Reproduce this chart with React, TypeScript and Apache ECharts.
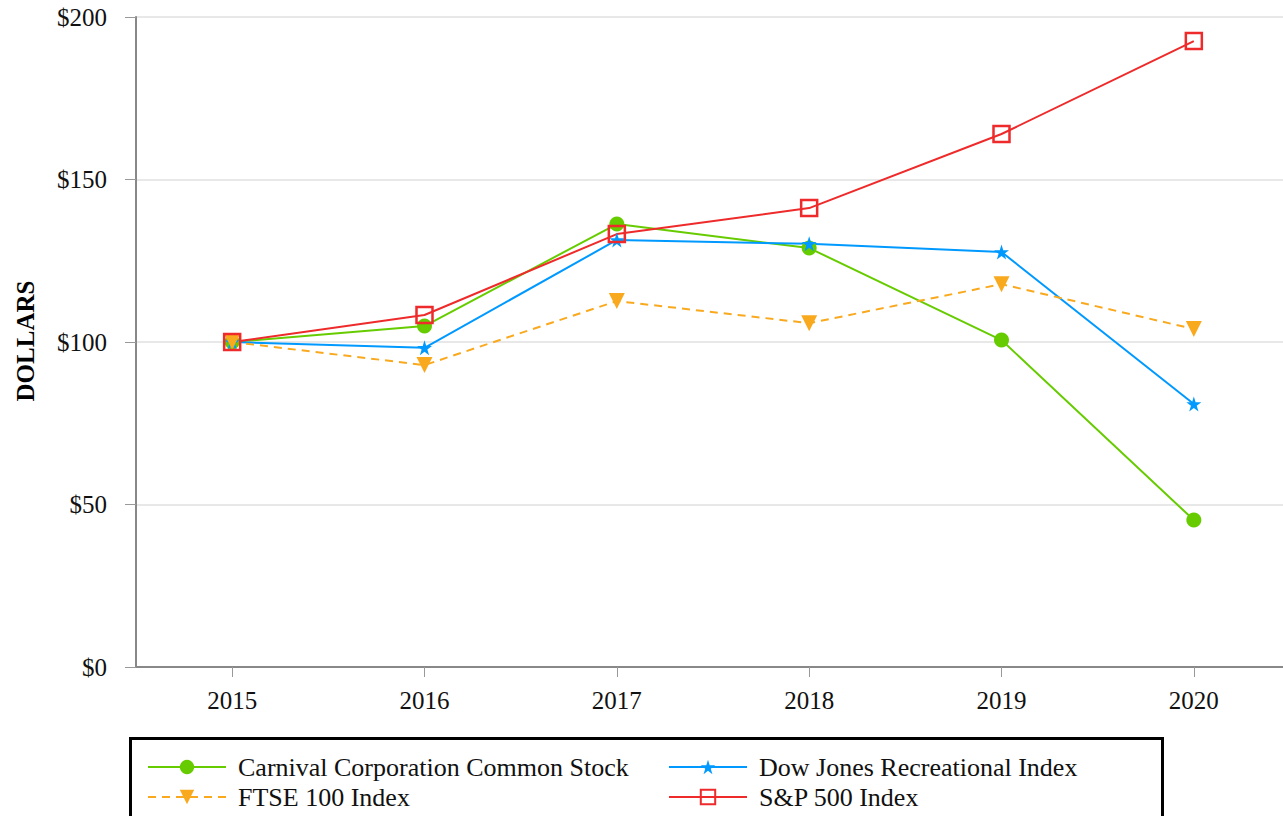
import React, { useEffect, useRef } from "react";
import * as echarts from "echarts";

const years = ["2015", "2016", "2017", "2018", "2019", "2020"];
const carnival = [100, 104.9, 136.3, 128.9, 100.6, 45.2];
const dowJones = [100, 98.2, 131.4, 130.2, 127.7, 80.9];
const ftse = [100, 92.9, 112.6, 105.8, 117.8, 104.0];
const sp500 = [100, 108.3, 133.2, 141.2, 164.0, 192.6];

const FONT = "'Liberation Serif', 'Times New Roman', serif";
const GREEN = "#66cc00";
const BLUE = "#0099ff";
const ORANGE = "#f9a91e";
const RED = "#ee2a2a";

export default function App() {
  const ref = useRef<HTMLDivElement>(null);
  useEffect(() => {
    if (!ref.current) return;
    const chart = echarts.init(ref.current, null, { renderer: "svg" });
    const legendBase = {
      orient: "horizontal" as const,
      itemWidth: 78,
      itemHeight: 18,
      padding: 0,
      selectedMode: false,
      textStyle: { fontFamily: FONT, fontSize: 26, color: "#111", padding: [0, 0, 0, 7] },
    };
    chart.setOption({
      animation: false,
      backgroundColor: "#fff",
      grid: { left: 136, right: 10, top: 17, bottom: 149, containLabel: false },
      xAxis: {
        type: "category",
        data: years,
        boundaryGap: true,
        axisLine: { show: true, lineStyle: { color: "#888", width: 2 } },
        axisTick: { show: true, alignWithLabel: true, length: 10, lineStyle: { color: "#999", width: 1 } },
        axisLabel: { fontFamily: FONT, fontSize: 25, color: "#111", margin: 21 },
        splitLine: { show: false },
      },
      yAxis: {
        type: "value",
        min: 0,
        max: 200,
        interval: 50,
        axisLine: { show: true, lineStyle: { color: "#888", width: 2 } },
        axisTick: { show: true, length: 11, lineStyle: { color: "#999", width: 1 } },
        axisLabel: { fontFamily: FONT, fontSize: 25, color: "#111", margin: 29, formatter: (v: number) => "$" + v },
        splitLine: { show: true, lineStyle: { color: "#e8e8e8", width: 2 } },
      },
      legend: [
        { ...legendBase, data: ["Carnival Corporation Common Stock"], left: 147, top: 754 },
        { ...legendBase, data: ["Dow Jones Recreational Index"], left: 668, top: 754 },
        { ...legendBase, data: ["FTSE 100 Index"], left: 147, top: 784 },
        { ...legendBase, data: ["S&P 500 Index"], left: 668, top: 784 },
      ],
      graphic: [
        {
          type: "rect",
          shape: { x: 130.5, y: 738.5, width: 1032, height: 120 },
          style: { fill: "none", stroke: "#000", lineWidth: 3 },
          silent: true,
        },
        {
          type: "text",
          x: 25,
          y: 341,
          rotation: Math.PI / 2,
          style: {
            text: "DOLLARS",
            fontFamily: FONT,
            fontSize: 25,
            fontWeight: "bold",
            fill: "#000",
            align: "center",
            verticalAlign: "middle",
          },
        },
      ],
      series: [
        {
          name: "Carnival Corporation Common Stock",
          type: "line",
          data: carnival,
          symbol: "circle",
          symbolSize: 15,
          lineStyle: { color: GREEN, width: 2 },
          itemStyle: { color: GREEN },
        },
        {
          name: "Dow Jones Recreational Index",
          type: "line",
          data: dowJones,
          symbol: "path://M50,0 L61.8,36.2 L100,36.2 L69.1,58.8 L80.9,95.1 L50,72.7 L19.1,95.1 L30.9,58.8 L0,36.2 L38.2,36.2 Z",
          symbolSize: 15,
          lineStyle: { color: BLUE, width: 2 },
          itemStyle: { color: BLUE },
        },
        {
          name: "FTSE 100 Index",
          type: "line",
          data: ftse,
          symbol: "triangle",
          symbolRotate: 180,
          symbolSize: 16,
          lineStyle: { color: ORANGE, width: 2, type: [8, 6] },
          itemStyle: { color: ORANGE },
        },
        {
          name: "S&P 500 Index",
          type: "line",
          data: sp500,
          symbol: "rect",
          symbolSize: 16,
          lineStyle: { color: RED, width: 2 },
          itemStyle: { color: "rgba(255,255,255,0)", borderColor: RED, borderWidth: 2.5 },
        },
      ],
    });
    return () => chart.dispose();
  }, []);
  return (
    <div
      ref={ref}
      style={{ position: "fixed", left: 0, top: 0, width: 1300, height: 816 }}
    />
  );
}
